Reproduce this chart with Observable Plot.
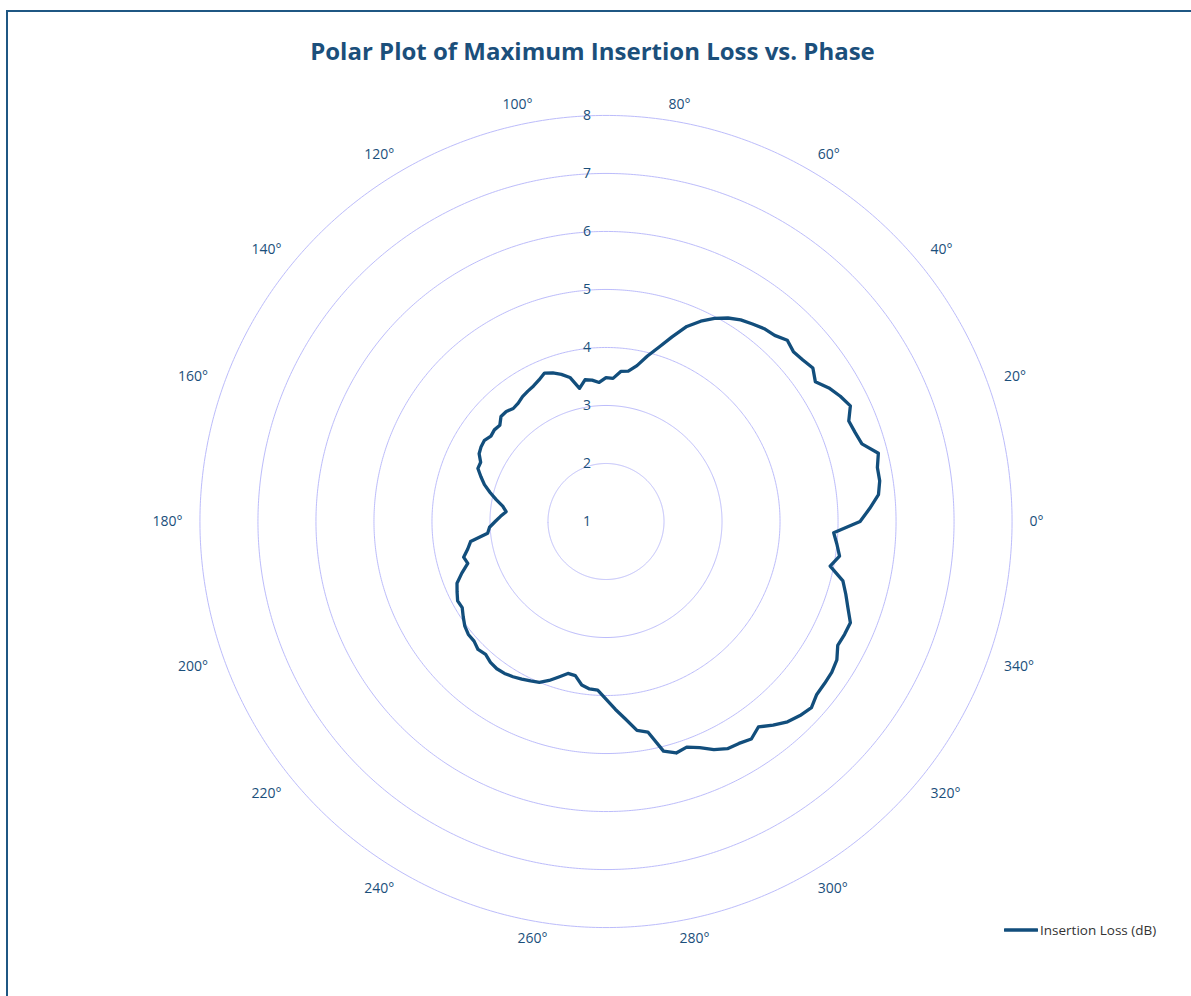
<!DOCTYPE html>
<html>
<head>
<meta charset="utf-8">
<script src="https://cdn.jsdelivr.net/npm/d3@7"></script>
<script src="https://cdn.jsdelivr.net/npm/@observablehq/plot@0.6"></script>
<style>
  html, body { margin: 0; padding: 0; background: #ffffff; width: 1191px; height: 996px; overflow: hidden; }
  #frame { position: absolute; left: 6px; top: 10px; width: 1200px; height: 1010px; border: 2px solid #1f5783; box-sizing: border-box; }
  #chart { position: absolute; left: 0; top: 0; }
  #title { position: absolute; left: 0; top: 35px; width: 1185px; text-align: center; font-family: "Open Sans", sans-serif; font-weight: 700; font-size: 24px; line-height: 32px; color: #1b4f7b; white-space: nowrap; }
  #legend { position: absolute; left: 1004px; top: 921px; height: 18px; display: flex; align-items: center; font-family: "Open Sans", sans-serif; font-size: 13.5px; color: #333333; white-space: nowrap; }
  #legend svg { display: block; margin-right: 2px; }
</style>
</head>
<body>
<div id="frame"></div>
<div id="chart"></div>
<div id="title">Polar Plot of Maximum Insertion Loss vs. Phase</div>
<div id="legend"><svg width="34" height="6"><line x1="1" y1="3" x2="33" y2="3" stroke="#124e7c" stroke-width="3.3" stroke-linecap="round"/></svg><span>Insertion Loss (dB)</span></div>
<script>
// Phase states (degrees)
const phase = [0, 2.8125, 5.625, 8.4375, 11.25, 14.0625, 16.875, 19.6875, 22.5, 25.3125, 28.125, 30.9375, 33.75, 36.5625, 39.375, 42.1875,
  45, 47.8125, 50.625, 53.4375, 56.25, 59.0625, 61.875, 64.6875, 67.5, 70.3125, 73.125, 75.9375, 78.75, 81.5625, 84.375, 87.1875,
  90, 92.8125, 95.625, 98.4375, 101.25, 104.0625, 106.875, 109.6875, 112.5, 115.3125, 118.125, 120.9375, 123.75, 126.5625, 129.375, 132.1875,
  135, 137.8125, 140.625, 143.4375, 146.25, 149.0625, 151.875, 154.6875, 157.5, 160.3125, 163.125, 165.9375, 168.75, 171.5625, 174.375, 177.1875,
  180, 182.8125, 185.625, 188.4375, 191.25, 194.0625, 196.875, 199.6875, 202.5, 205.3125, 208.125, 210.9375, 213.75, 216.5625, 219.375, 222.1875,
  225, 227.8125, 230.625, 233.4375, 236.25, 239.0625, 241.875, 244.6875, 247.5, 250.3125, 253.125, 255.9375, 258.75, 261.5625, 264.375, 267.1875,
  270, 272.8125, 275.625, 278.4375, 281.25, 284.0625, 286.875, 289.6875, 292.5, 295.3125, 298.125, 300.9375, 303.75, 306.5625, 309.375, 312.1875,
  315, 317.8125, 320.625, 323.4375, 326.25, 329.0625, 331.875, 334.6875, 337.5, 340.3125, 343.125, 345.9375, 348.75, 351.5625, 354.375, 357.1875];

// Maximum insertion loss (dB) at each phase state
const loss = [5.38, 5.55, 5.72, 5.77, 5.77, 5.84, 5.61, 5.56, 5.53, 5.66, 5.58, 5.48, 5.34, 5.44, 5.39, 5.36,
  5.42, 5.33, 5.30, 5.24, 5.18, 5.09, 4.97, 4.82, 4.64, 4.38, 4.14, 3.94, 3.74, 3.62, 3.60, 3.47,
  3.48, 3.40, 3.45, 3.47, 3.34, 3.56, 3.65, 3.72, 3.77, 3.70, 3.65, 3.62, 3.59, 3.54, 3.52, 3.56,
  3.56, 3.47, 3.49, 3.47, 3.52, 3.51, 3.48, 3.39, 3.39, 3.29, 3.19, 3.06, 2.93, 2.80, 2.73, 2.82,
  2.91, 3.01, 3.05, 3.36, 3.43, 3.53, 3.49, 3.64, 3.78, 3.84, 3.90, 3.89, 3.96, 4.03, 4.07, 4.07,
  4.12, 4.09, 4.14, 4.16, 4.15, 4.12, 4.08, 4.04, 4.00, 3.91, 3.80, 3.70, 3.71, 3.85, 3.90, 3.91,
  4.06, 4.24, 4.42, 4.64, 4.70, 5.08, 5.17, 5.13, 5.22, 5.35, 5.44, 5.46, 5.51, 5.41, 5.54, 5.66,
  5.73, 5.78, 5.70, 5.69, 5.68, 5.64, 5.53, 5.55, 5.56, 5.43, 5.32, 5.21, 4.94, 5.07, 5.00, 4.93];

// Axis ticks
const radiusTicks = [1, 2, 3, 4, 5, 6, 7, 8];
const angleTicks = [0, 20, 40, 60, 80, 100, 120, 140, 160, 180, 200, 220, 240, 260, 280, 300, 320, 340];

const rMin = 1, rMax = 8;
const labelRadius = 7.3 + rMin; // in value units, just outside the outer ring

const data = phase.map((p, i) => ({phase: p, loss: loss[i]}));
const closed = data.concat([data[0]]);

// polar (angle, value) -> (longitude, latitude) on an azimuthal-equidistant projection centred on the pole
const lon = a => a + 90;
const lat = v => 90 - (v - rMin);

const ink = "#1b4f7b";
const rings = radiusTicks.filter(v => v > rMin).map(v => d3.geoCircle().center([0, 90]).radius(v - rMin).precision(0.5)());
const cosd = a => Math.cos(a * Math.PI / 180);
const sind = a => Math.sin(a * Math.PI / 180);

// label anchoring: near-vertical labels in quadrants II/IV lean outward, others centred
const anchorOf = a => {
  const c = cosd(a), s = sind(a);
  if (Math.abs(c) > 0.2) return c > 0 ? "start" : "end";
  if (c * s < 0) return c > 0 ? "start" : "end";
  return "middle";
};

const labelMark = anchor => Plot.text(angleTicks, {
  filter: a => anchorOf(a) === anchor, x: a => lon(a), y: () => lat(labelRadius), text: a => a + "°",
  textAnchor: anchor, lineAnchor: "middle", fill: ink, fontSize: 14
});

const chart = Plot.plot({
  width: 1191,
  height: 996,
  margin: 0,
  projection: {
    type: "azimuthal-equidistant",
    rotate: [0, -90],
    domain: d3.geoCircle().center([0, 90]).radius(rMax - rMin)(),
    insetLeft: 199.5,
    insetRight: 179.5,
    insetTop: 115,
    insetBottom: 69
  },
  style: {fontFamily: "Open Sans, sans-serif", fontSize: "14px", color: ink, background: "transparent", overflow: "visible"},
  marks: [
    Plot.geo(rings, {stroke: "#bcbcfb", strokeWidth: 1, fill: "none"}),
    Plot.line(closed, {x: d => lon(d.phase), y: d => lat(d.loss), stroke: "#124e7c", strokeWidth: 3.3, strokeLinejoin: "round"}),
    Plot.text(radiusTicks, {x: () => lon(90), y: v => lat(v), text: v => String(v), textAnchor: "end", dx: -15, lineAnchor: "middle", fill: ink, fontSize: 14}),
    labelMark("start"),
    labelMark("end"),
    labelMark("middle")
  ]
});
document.getElementById("chart").appendChild(chart);
</script>
</body>
</html>
